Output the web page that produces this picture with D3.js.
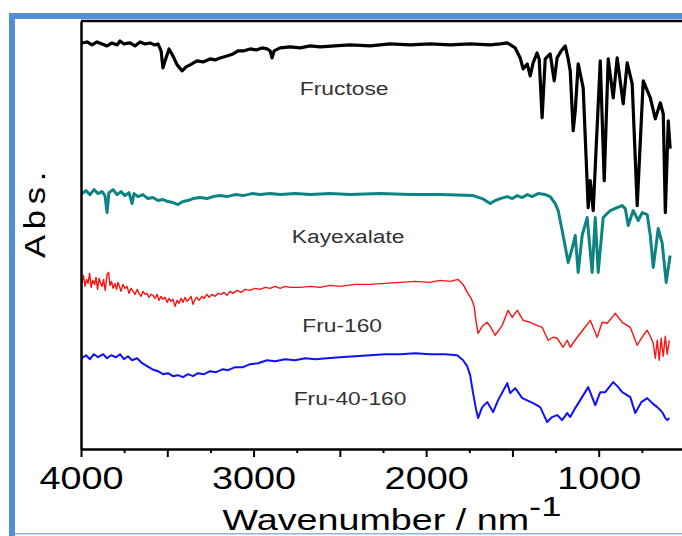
<!DOCTYPE html>
<html>
<head>
<meta charset="utf-8">
<script src="https://cdn.jsdelivr.net/npm/d3@7"></script>
<style>
  body { margin: 0; background: #fff; }
  svg { display: block; font-family: "Liberation Sans", Arial, sans-serif; }
</style>
</head>
<body>
<div id="chart"></div>
<script>
// [wavenumber (cm-1), absorbance with offset (a.u.)]
const fructose = [
  [3995, 4.07], [3965, 4.08], [3936, 4.05], [3907, 4.08], [3878, 4.06], [3849, 4.04],
  [3820, 4.07], [3791, 4.05], [3774, 4.09], [3751, 4.06], [3716, 4.07], [3687, 4.04],
  [3658, 4.08], [3629, 4.06], [3600, 4.07], [3571, 4.05], [3554, 4.06], [3536, 3.99],
  [3525, 3.82], [3513, 3.89], [3490, 4.01], [3467, 3.94], [3443, 3.85], [3414, 3.79],
  [3391, 3.83], [3368, 3.85], [3328, 3.89], [3293, 3.88], [3252, 3.91], [3223, 3.90],
  [3194, 3.92], [3154, 3.94], [3119, 3.96], [3090, 3.99], [3061, 3.99], [3020, 4.01],
  [2985, 4.00], [2951, 4.02], [2922, 4.01], [2904, 3.99], [2893, 3.92], [2881, 3.99],
  [2846, 4.02], [2788, 4.03], [2730, 4.02], [2672, 4.04], [2614, 4.03], [2528, 4.04],
  [2441, 4.05], [2325, 4.04], [2209, 4.06], [2093, 4.05], [1977, 4.06], [1861, 4.05],
  [1745, 4.06], [1629, 4.05], [1571, 4.06], [1530, 4.07], [1484, 4.02], [1455, 3.92],
  [1438, 3.81], [1414, 3.86], [1397, 3.74], [1380, 3.87], [1357, 3.97], [1345, 3.91],
  [1328, 3.32], [1310, 3.91], [1281, 3.96], [1258, 3.69], [1241, 3.92], [1218, 3.99],
  [1194, 4.04], [1177, 3.91], [1165, 3.79], [1148, 3.19], [1136, 3.39], [1119, 3.86],
  [1090, 3.62], [1061, 2.42], [1049, 2.69], [1032, 2.39], [991, 3.89], [968, 2.69],
  [945, 3.91], [916, 3.52], [893, 3.92], [858, 3.46], [835, 3.87], [806, 3.66],
  [777, 2.44], [742, 3.69], [701, 3.52], [672, 3.31], [643, 3.47], [626, 3.36],
  [614, 2.37], [597, 3.29], [586, 3.01]
];

const kayexalate = [
  [3995, 2.56], [3971, 2.59], [3948, 2.55], [3925, 2.60], [3901, 2.56], [3878, 2.58],
  [3861, 2.54], [3849, 2.37], [3838, 2.57], [3814, 2.60], [3791, 2.55], [3768, 2.58],
  [3745, 2.54], [3722, 2.57], [3704, 2.46], [3693, 2.56], [3670, 2.53], [3641, 2.55],
  [3612, 2.51], [3583, 2.52], [3554, 2.49], [3525, 2.50], [3496, 2.48], [3467, 2.47],
  [3438, 2.45], [3409, 2.48], [3380, 2.49], [3351, 2.51], [3310, 2.52], [3270, 2.51],
  [3235, 2.53], [3194, 2.54], [3154, 2.53], [3107, 2.55], [3061, 2.54], [3009, 2.56],
  [2962, 2.55], [2904, 2.56], [2846, 2.55], [2759, 2.56], [2672, 2.55], [2557, 2.56],
  [2441, 2.55], [2267, 2.56], [2093, 2.55], [1919, 2.55], [1728, 2.54], [1675, 2.51],
  [1629, 2.46], [1600, 2.49], [1571, 2.51], [1530, 2.53], [1501, 2.51], [1472, 2.54],
  [1443, 2.52], [1414, 2.55], [1386, 2.53], [1351, 2.56], [1310, 2.55], [1281, 2.53],
  [1252, 2.46], [1235, 2.39], [1206, 2.14], [1177, 1.87], [1154, 2.01], [1136, 2.14],
  [1119, 1.77], [1096, 2.14], [1067, 2.32], [1038, 1.77], [1020, 2.32], [1003, 1.77],
  [974, 2.32], [933, 2.39], [893, 2.42], [864, 2.44], [846, 2.41], [829, 2.24],
  [800, 2.39], [771, 2.29], [748, 2.37], [719, 2.35], [701, 2.14], [684, 1.82],
  [655, 2.21], [632, 2.06], [609, 1.67], [586, 1.94]
];

const fru160 = [
  [3995, 1.67], [3986, 1.74], [3977, 1.63], [3968, 1.70], [3959, 1.66], [3950, 1.76],
  [3941, 1.62], [3932, 1.69], [3921, 1.65], [3913, 1.72], [3904, 1.60], [3895, 1.71],
  [3886, 1.66], [3878, 1.63], [3869, 1.70], [3860, 1.59], [3849, 1.75], [3840, 1.77],
  [3832, 1.64], [3823, 1.68], [3814, 1.61], [3803, 1.66], [3794, 1.60], [3786, 1.67],
  [3777, 1.63], [3768, 1.58], [3757, 1.65], [3745, 1.61], [3733, 1.63], [3722, 1.56],
  [3710, 1.61], [3698, 1.58], [3687, 1.55], [3675, 1.60], [3664, 1.56], [3652, 1.53],
  [3641, 1.58], [3629, 1.55], [3617, 1.56], [3606, 1.52], [3594, 1.55], [3583, 1.54],
  [3571, 1.51], [3559, 1.55], [3548, 1.49], [3536, 1.53], [3525, 1.50], [3513, 1.52],
  [3501, 1.47], [3490, 1.51], [3478, 1.48], [3467, 1.50], [3455, 1.43], [3443, 1.49],
  [3432, 1.46], [3420, 1.51], [3409, 1.47], [3397, 1.52], [3385, 1.48], [3374, 1.50],
  [3362, 1.53], [3351, 1.45], [3339, 1.50], [3328, 1.52], [3316, 1.49], [3299, 1.53],
  [3287, 1.51], [3270, 1.55], [3258, 1.52], [3241, 1.55], [3223, 1.53], [3206, 1.56],
  [3188, 1.55], [3171, 1.57], [3154, 1.54], [3136, 1.58], [3119, 1.56], [3096, 1.59],
  [3072, 1.57], [3049, 1.60], [3020, 1.59], [2991, 1.61], [2962, 1.60], [2933, 1.62],
  [2904, 1.61], [2875, 1.63], [2846, 1.61], [2817, 1.63], [2788, 1.62], [2730, 1.62],
  [2672, 1.63], [2614, 1.62], [2557, 1.64], [2499, 1.63], [2412, 1.65], [2325, 1.65],
  [2238, 1.66], [2151, 1.67], [2064, 1.68], [1977, 1.67], [1919, 1.69], [1861, 1.68],
  [1815, 1.70], [1786, 1.65], [1762, 1.57], [1739, 1.51], [1722, 1.43], [1710, 1.27],
  [1699, 1.16], [1675, 1.23], [1646, 1.27], [1629, 1.23], [1600, 1.14], [1559, 1.24],
  [1525, 1.39], [1501, 1.32], [1472, 1.39], [1438, 1.29], [1397, 1.27], [1357, 1.24],
  [1328, 1.22], [1293, 1.09], [1264, 1.12], [1241, 1.11], [1206, 1.02], [1183, 1.09],
  [1165, 1.02], [1125, 1.12], [1084, 1.21], [1049, 1.29], [1009, 1.12], [980, 1.27],
  [951, 1.26], [904, 1.36], [864, 1.27], [817, 1.22], [777, 1.04], [742, 1.14],
  [719, 1.19], [696, 1.11], [684, 1.06], [672, 0.91], [661, 1.09], [649, 0.89],
  [638, 1.11], [626, 0.93], [614, 1.13], [603, 0.95], [591, 1.09]
];

const fru40160 = [
  [3995, 0.91], [3971, 0.94], [3948, 0.90], [3925, 0.95], [3901, 0.92], [3872, 0.95],
  [3849, 0.91], [3826, 0.94], [3797, 0.92], [3774, 0.95], [3751, 0.90], [3728, 0.93],
  [3704, 0.89], [3675, 0.91], [3646, 0.86], [3617, 0.83], [3588, 0.80], [3554, 0.78],
  [3525, 0.75], [3496, 0.76], [3467, 0.73], [3438, 0.74], [3409, 0.72], [3380, 0.75],
  [3351, 0.73], [3322, 0.76], [3287, 0.75], [3252, 0.78], [3217, 0.77], [3177, 0.80],
  [3148, 0.79], [3107, 0.82], [3061, 0.82], [3020, 0.85], [2974, 0.86], [2922, 0.89],
  [2875, 0.88], [2817, 0.90], [2759, 0.89], [2701, 0.91], [2643, 0.90], [2574, 0.91],
  [2499, 0.92], [2412, 0.93], [2325, 0.94], [2238, 0.95], [2151, 0.95], [2064, 0.96],
  [1977, 0.95], [1890, 0.95], [1820, 0.94], [1786, 0.89], [1762, 0.83], [1745, 0.74],
  [1728, 0.56], [1710, 0.39], [1699, 0.31], [1675, 0.42], [1646, 0.47], [1612, 0.37],
  [1583, 0.49], [1530, 0.66], [1513, 0.56], [1484, 0.61], [1443, 0.51], [1380, 0.46],
  [1339, 0.42], [1299, 0.27], [1270, 0.32], [1241, 0.34], [1212, 0.29], [1183, 0.36],
  [1165, 0.32], [1136, 0.41], [1107, 0.49], [1061, 0.62], [1020, 0.44], [991, 0.57],
  [962, 0.57], [916, 0.67], [887, 0.62], [864, 0.57], [817, 0.52], [788, 0.36],
  [753, 0.47], [719, 0.51], [690, 0.46], [661, 0.42], [632, 0.37], [614, 0.31],
  [603, 0.29], [591, 0.31]
];

const seriesNames = ["Fructose", "Kayexalate", "Fru-160", "Fru-40-160"];
const majorTicks = [4000, 3500, 3000, 2500, 2000, 1500, 1000, 500];
const minorTicks = [3750, 3250, 2750, 2250, 1750, 1250, 750];

// label anchors in data units (wavenumber, abs)
const labelAnchors = [[2475, 3.55], [2452, 2.06], [2487, 1.17], [2441, 0.44]];

const series = [fructose, kayexalate, fru160, fru40160];
const colors = ["#000000", "#0b8482", "#ff1010", "#1010ff"];
const widths = [3.2, 3, 1.4, 2];

let svg = d3
  .select("#chart")
  .append("svg")
  .attr("width", 682)
  .attr("height", 536);

// blue frame of the pasted figure
svg.append("rect").attr("x", 9).attr("y", 13).attr("width", 6).attr("height", 523).attr("fill", "#538dd5");
svg.append("rect").attr("x", 9).attr("y", 13).attr("width", 673).attr("height", 6).attr("fill", "#538dd5");
svg.append("rect").attr("x", 15).attr("y", 533).attr("width", 667).attr("height", 1.5).attr("fill", "#8fb4e3");

let x = d3.scaleLinear().domain([4000, 500]).range([81, 685]);
let y = d3.scaleLinear().domain([0, 4.29]).range([449, 21]);

let line = d3
  .line()
  .x(function (d) {
    return x(d[0]);
  })
  .y(function (d) {
    return y(d[1]);
  });

series.forEach(function (s, i) {
  svg
    .append("path")
    .datum(s)
    .attr("fill", "none")
    .attr("stroke", colors[i])
    .attr("stroke-width", widths[i])
    .attr("stroke-linejoin", "round")
    .attr("d", line);
});

// frame: top line
svg
  .append("line")
  .attr("x1", x(4000))
  .attr("x2", 682)
  .attr("y1", y(4.29))
  .attr("y2", y(4.29))
  .attr("stroke", "#000")
  .attr("stroke-width", 2.5);

// left axis, no ticks
svg
  .append("g")
  .attr("transform", "translate(" + x(4000) + ",0)")
  .call(d3.axisLeft(y).tickValues([]).tickSizeOuter(0))
  .call(function (g) {
    g.select(".domain").attr("stroke-width", 2.5);
  });

// bottom axis: minor then major ticks
svg
  .append("g")
  .attr("transform", "translate(0," + y(0) + ")")
  .call(d3.axisBottom(x).tickValues(minorTicks).tickSize(4).tickSizeOuter(0).tickFormat(""))
  .call(function (g) {
    g.select(".domain").remove();
    g.selectAll(".tick line").attr("stroke-width", 2);
  });

svg
  .append("g")
  .attr("transform", "translate(0," + y(0) + ")")
  .call(
    d3
      .axisBottom(x)
      .tickValues(majorTicks)
      .tickSize(8)
      .tickSizeOuter(0)
      .tickFormat(function (d) {
        return d % 1000 === 0 ? d : "";
      })
  )
  .call(function (g) {
    g.select(".domain").attr("stroke-width", 2.5);
    g.selectAll(".tick line").attr("stroke-width", 2);
    g.selectAll(".tick text")
      .attr("y", 40)
      .attr("dy", 0)
      .attr("fill", "#000")
      .style("font-family", "'Liberation Sans', Arial, sans-serif")
      .style("font-size", "31px")
      .attr("transform", "scale(1.22,1)");
  });

// series labels
svg
  .selectAll(".series-label")
  .data(seriesNames)
  .enter()
  .append("text")
  .attr("class", "series-label")
  .attr("transform", function (d, i) {
    return "translate(" + x(labelAnchors[i][0]) + "," + y(labelAnchors[i][1]) + ") scale(1.2,1)";
  })
  .attr("text-anchor", "middle")
  .attr("fill", "#333")
  .style("font-size", "19px")
  .text(function (d) {
    return d;
  });

// axis titles
let xTitle = svg
  .append("text")
  .attr("transform", "translate(392,530) scale(1.3,1)")
  .attr("text-anchor", "middle")
  .attr("fill", "#000")
  .style("font-size", "29px");
xTitle.append("tspan").text("Wavenumber / nm");
xTitle.append("tspan").attr("dy", -14).style("font-size", "28px").text("-1");

svg
  .append("text")
  .attr("transform", "translate(45,212) rotate(-90) scale(1.15,1)")
  .attr("text-anchor", "middle")
  .attr("fill", "#000")
  .style("font-size", "30px")
  .style("letter-spacing", "5px")
  .text("Abs.");
</script>
</body>
</html>
